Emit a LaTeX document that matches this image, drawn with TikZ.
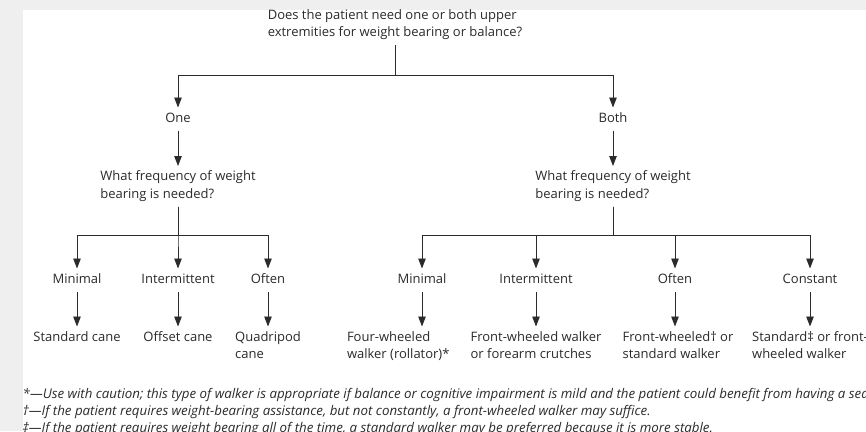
\documentclass[tikz,border=0pt]{standalone}
\usepackage{fontspec}
\setmainfont{Open Sans}
\usetikzlibrary{arrows.meta}
\definecolor{ink}{HTML}{2B2B2B}
\definecolor{pagegray}{HTML}{EFEFEF}

\begin{document}
\begin{tikzpicture}[x=1pt,y=-1pt,
  every node/.style={font=\fontsize{13}{17.5}\selectfont,text=ink,inner sep=0pt,outer sep=5pt,align=left},
  word/.style={text height=10pt,text depth=3pt},
  arr/.style={draw=ink,line width=0.9pt,-{Triangle[length=10pt,width=7.5pt]}}]
  \useasboundingbox (0,0) rectangle (866,431);
  \clip (0,0) rectangle (866,431);
  \fill[pagegray] (0,0) rectangle (866,431);
  \fill[white] (23,10) rectangle (866,431);

  \node[anchor=north] (ask) at (395,4.5) {Does the patient need one or both upper\\extremities for weight bearing or balance?};
  \node[word] (one) at (178,119) {One};
  \node[word] (both) at (613,119) {Both};
  \node[anchor=north] (freqone) at (178,166) {What frequency of weight\\bearing is needed?};
  \node[anchor=north] (freqboth) at (613,166) {What frequency of weight\\bearing is needed?};

  \node[word] (minone) at (77,280) {Minimal};
  \node[word] (intone) at (178,280) {Intermittent};
  \node[word] (oftone) at (268,280) {Often};
  \node[word] (minboth) at (422,280) {Minimal};
  \node[word] (intboth) at (536,280) {Intermittent};
  \node[word] (oftboth) at (675,280) {Often};
  \node[word] (conboth) at (810,280) {Constant};

  \node[word,anchor=north] (stdcane) at (77,326.5) {Standard cane};
  \node[word,anchor=north] (offcane) at (178,326.5) {Offset cane};
  \node[anchor=north] (quadcane) at (268,326.5) {Quadripod\\cane};
  \node[anchor=north west] (rollator) at (342,326.5) {Four-wheeled\\walker (rollator)*};
  \node[anchor=north] (frontwalk) at (536,326.5) {Front-wheeled walker\\or forearm crutches};
  \node[anchor=north] (frontstd) at (678,326.5) {Front-wheeled† or\\standard walker};
  \node[anchor=north] (stdfront) at (810,326.5) {Standard‡ or front-\\wheeled walker};

  \node[anchor=north west,font=\fontsize{13.3}{17}\selectfont\itshape] (notes) at (17.7,383.5) {*—Use with caution; this type of walker is appropriate if balance or cognitive impairment is mild and the patient could benefit from having a seat\\†—If the patient requires weight-bearing assistance, but not constantly, a front-wheeled walker may suffice.\\‡—If the patient requires weight bearing all of the time, a standard walker may be preferred because it is more stable.};

  \draw[arr] (ask.south) -- ++(0,30) -| (one);
  \draw[arr] (ask.south) -- ++(0,30) -| (both);
  \draw[arr] (one) -- (freqone);
  \draw[arr] (both) -- (freqboth);
  \foreach \n in {minone,intone,oftone}
    \draw[arr] (freqone.south) -- ++(0,29) -| (\n);
  \foreach \n in {minboth,intboth,oftboth,conboth}
    \draw[arr] (freqboth.south) -- ++(0,29) -| (\n);
  \draw[arr] (minone) -- (stdcane);
  \draw[arr] (intone) -- (offcane);
  \draw[arr] (oftone) -- (quadcane);
  \draw[arr] (minboth) -- (minboth |- rollator.north);
  \draw[arr] (intboth) -- (frontwalk);
  \draw[arr] (oftboth) -- (oftboth |- frontstd.north);
  \draw[arr] (conboth) -- (stdfront);
\end{tikzpicture}
\end{document}
